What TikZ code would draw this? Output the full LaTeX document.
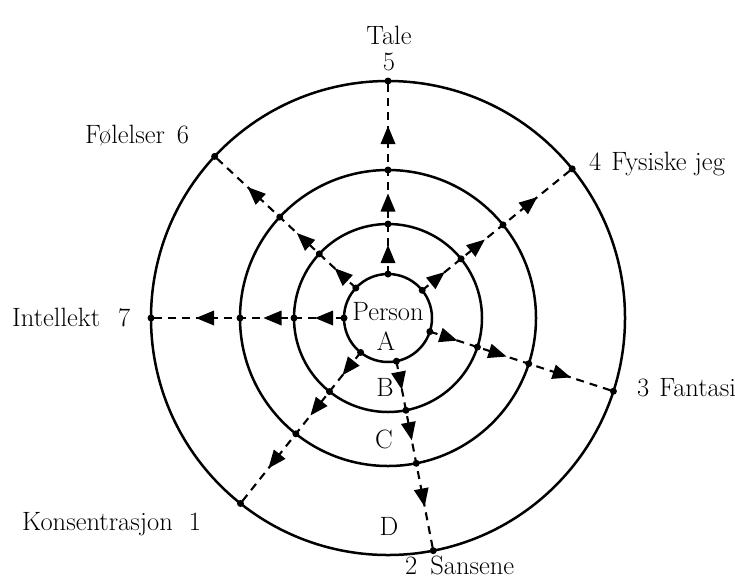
\documentclass[tikz,border=0pt]{standalone}
\usepackage{fontspec}
\usetikzlibrary{calc}
\tikzset{
  ring/.style={line width=2.5pt},
  spoke/.style={line width=2.1pt, dash pattern=on 8pt off 6pt},
  joint/.style={fill, circle, inner sep=0pt, minimum size=7pt},
  lab/.style={font=\fontsize{26.5}{30}\selectfont, inner sep=0pt},
  tip/.style={fill=black},
}
\begin{document}
\begin{tikzpicture}[x=1pt,y=-1pt]
\useasboundingbox (0,0) rectangle (735,579);
\fill[white] (0,0) rectangle (735,579);
\coordinate (c) at (388,318);
% rings
\foreach \r in {44,94,148,237} \draw[ring] (c) circle[radius=\r pt];
% spokes
\foreach \ang/\n in {270/5, -39/4, 18/3, 79/2, 128.5/1, 180/7, 223/6} {
  \coordinate (p\n a) at ($(c)+(\ang:44)$);
  \coordinate (p\n b) at ($(c)+(\ang:94)$);
  \coordinate (p\n c) at ($(c)+(\ang:148)$);
  \coordinate (p\n d) at ($(c)+(\ang:237)$);
  \draw[spoke] (p\n a) -- (p\n b) -- (p\n c) -- (p\n d);
  \foreach \k in {a,b,c,d} \node[joint] (j\n\k) at (p\n\k) {};
  \foreach \r in {63,114.5,182}
    \fill[tip, shift={($(c)+(\ang:\r)$)}, rotate=-\ang] (10,0) -- (-8,7.5) -- (-8,-7.5) -- cycle;
}
% labels
\node[lab, anchor=base] (tale) at (389,44) {Tale};
\node[lab, anchor=base] (n5) at (389,70) {5};
\node[lab, anchor=base west] (fol) at (85,143) {Følelser\hspace{12pt}6};
\node[lab, anchor=base west] (fys) at (589,170) {4\hspace{10pt}Fysiske jeg};
\node[lab, anchor=base west] (int) at (12,326) {Intellekt\hspace{18pt}7};
\node[lab, anchor=base west] (fan) at (637,396) {3\hspace{10pt}Fantasi};
\node[lab, anchor=base west] (kon) at (22,530) {Konsentrasjon\hspace{16pt}1};
\node[lab, anchor=base west] (san) at (405,574) {2\hspace{13pt}Sansene};
\node[lab, anchor=base] (per) at (388,320) {Person};
\node[lab, anchor=base] (la) at (386,350) {A};
\node[lab, anchor=base] (lb) at (385,396) {B};
\node[lab, anchor=base] (lc) at (384,448) {C};
\node[lab, anchor=base] (ld) at (389,535) {D};
\end{tikzpicture}
\end{document}
